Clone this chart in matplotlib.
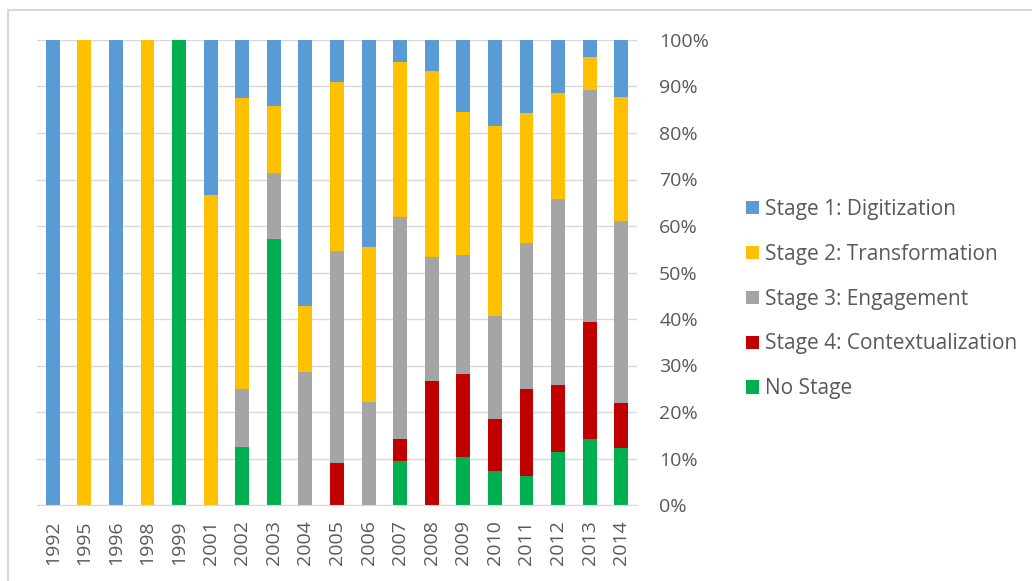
import numpy as np
import matplotlib.pyplot as plt
from matplotlib.lines import Line2D

years = ["1992", "1995", "1996", "1998", "1999", "2001", "2002", "2003", "2004", "2005",
         "2006", "2007", "2008", "2009", "2010", "2011", "2012", "2013", "2014"]

# shares in percent
no_stage = [0, 0, 0, 0, 100, 0, 12.5, 57.1, 0, 0,
            0, 9.5, 0, 10.3, 7.4, 6.3, 11.4, 14.3, 12.2]
stage4 = [0, 0, 0, 0, 0, 0, 0, 0, 0, 9.1,
          0, 4.8, 26.7, 17.9, 11.1, 18.7, 14.3, 25.0, 9.8]
stage3 = [0, 0, 0, 0, 0, 0, 12.5, 14.3, 28.6, 45.5,
          22.2, 47.6, 26.7, 25.6, 22.2, 31.3, 40.0, 50.0, 39.0]
stage2 = [0, 100, 0, 100, 0, 66.7, 62.5, 14.3, 14.3, 36.4,
          33.3, 33.3, 40.0, 30.8, 40.7, 28.1, 22.9, 7.1, 26.8]
stage1 = [100, 0, 100, 0, 0, 33.3, 12.5, 14.3, 57.1, 9.1,
          44.4, 4.8, 6.7, 15.4, 18.5, 15.6, 11.4, 3.6, 12.2]

series = [
    ("No Stage", no_stage, "#00B050"),
    ("Stage 4: Contextualization", stage4, "#C00000"),
    ("Stage 3: Engagement", stage3, "#A5A5A5"),
    ("Stage 2: Transformation", stage2, "#FFC000"),
    ("Stage 1: Digitization", stage1, "#5B9BD5"),
]

plt.rcParams['font.family'] = ['Open Sans', 'DejaVu Sans']
txt = "#595959"

fig = plt.figure(figsize=(10.32, 5.81), dpi=100)
ax = fig.add_axes([37 / 1032, 1 - 505 / 581, 600 / 1032, 465 / 581])

x = np.arange(len(years))
bottom = np.zeros(len(years))
handles = []
for name, vals, col in series:
    vals = np.array(vals, dtype=float)
    b = ax.bar(x, vals, 0.44, bottom=bottom, color=col, label=name, zorder=2)
    bottom += vals
    handles.append(b)

ax.set_xlim(-0.5, len(years) - 0.5)
ax.set_ylim(0, 100)
ax.set_yticks(np.arange(0, 101, 10))
ax.set_yticklabels([f"{v}%" for v in range(0, 101, 10)])
ax.yaxis.tick_right()
ax.set_xticks(x)
ax.set_xticklabels(years, rotation=90)
ax.tick_params(axis='both', length=0, colors=txt, labelsize=14)
ax.tick_params(axis='y', pad=16)
ax.tick_params(axis='x', pad=11)
ax.grid(axis='y', color="#D9D9D9", linewidth=1, zorder=0)
for s in ["top", "left", "right"]:
    ax.spines[s].set_visible(False)
ax.spines["bottom"].set_color("#D9D9D9")

leg = fig.legend(handles[::-1], [s[0] for s in series][::-1],
                 loc="center left", bbox_to_anchor=(0.705, 1 - 299 / 581),
                 frameon=False, fontsize=15, handlelength=0.6, handleheight=0.6,
                 handletextpad=0.3, labelspacing=1.15, labelcolor=txt)

# outer chart border
fig.add_artist(Line2D([8 / 1032, 1], [1 - 10 / 581, 1 - 10 / 581], color="#D9D9D9", lw=1.5))
fig.add_artist(Line2D([8 / 1032, 8 / 1032], [0, 1 - 10 / 581], color="#D9D9D9", lw=1.5))

fig.savefig("out.png", dpi=100)
